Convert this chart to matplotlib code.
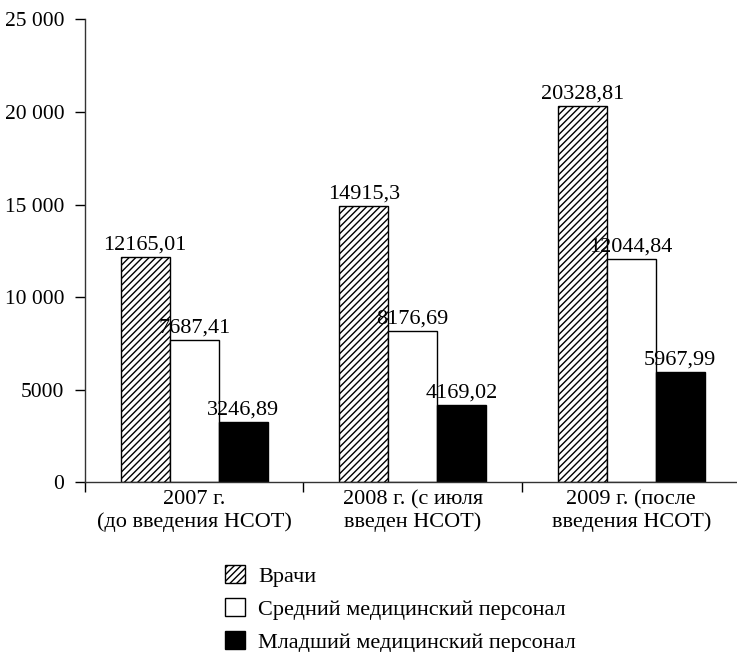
import matplotlib
matplotlib.use("Agg")
import numpy as np
import matplotlib.pyplot as plt
from matplotlib.patches import Patch

plt.rcParams['font.family'] = ['Liberation Serif', 'DejaVu Serif']
plt.rcParams['hatch.linewidth'] = 1.0

categories = ['2007 г.\n(до введения НСОТ)',
              '2008 г. (с июля\nвведен НСОТ)',
              '2009 г. (после\nвведения НСОТ)']
doctors = [12165.01, 14915.3, 20328.81]
middle_staff = [7687.41, 8176.69, 12044.84]
junior_staff = [3246.89, 4169.02, 5967.99]
series_names = ['Врачи', 'Средний медицинский персонал', 'Младший медицинский персонал']
yticks = [0, 5000, 10000, 15000, 20000, 25000]
ytick_labels = ['0', '5000', '10 000', '15 000', '20 000', '25 000']

fig = plt.figure(figsize=(7.37, 6.52), dpi=100)
ax = fig.add_axes([0.1153, 0.2607, 0.8894, 0.7094])

x = np.arange(len(categories))
w = 0.224
styles = [dict(facecolor='white', hatch='/////'),
          dict(facecolor='white'),
          dict(facecolor='black')]
for i, (vals, st) in enumerate(zip([doctors, middle_staff, junior_staff], styles)):
    pos = x + (i - 1) * w
    ax.bar(pos, vals, width=w, edgecolor='black', linewidth=1.0, **st)
    for p, v in zip(pos, vals):
        ax.text(p, v + 120, str(v).replace('.', ','), ha='center', va='bottom', fontsize=16)

ax.set_xlim(-0.5, 2.5)
ax.set_ylim(0, 25000)
ax.set_yticks(yticks)
ax.set_yticklabels(ytick_labels, fontsize=15.5)
ax.set_xticks(x)
ax.set_xticklabels(categories, fontsize=16, linespacing=1.2)
ax.set_xticks([-0.5, 0.5, 1.5, 2.5], minor=True)
ax.tick_params(axis='x', which='major', length=0, pad=6)
ax.tick_params(axis='x', which='minor', length=7, width=1.0, direction='out')
ax.tick_params(axis='y', length=7, width=1.0, direction='out', pad=8)

for s in ['top', 'right']:
    ax.spines[s].set_visible(False)
for s in ['left', 'bottom']:
    ax.spines[s].set_linewidth(1.0)
    ax.spines[s].set_color('#333333')

handles = [Patch(facecolor='white', edgecolor='black', hatch='/////'),
           Patch(facecolor='white', edgecolor='black'),
           Patch(facecolor='black', edgecolor='black')]
fig.legend(handles, series_names, loc='upper left', bbox_to_anchor=(0.305, 0.134),
           frameon=False, fontsize=16, handlelength=0.9, handleheight=0.9,
           handletextpad=0.6, labelspacing=0.5, borderpad=0, borderaxespad=0)

fig.savefig('out.png', dpi=100)
